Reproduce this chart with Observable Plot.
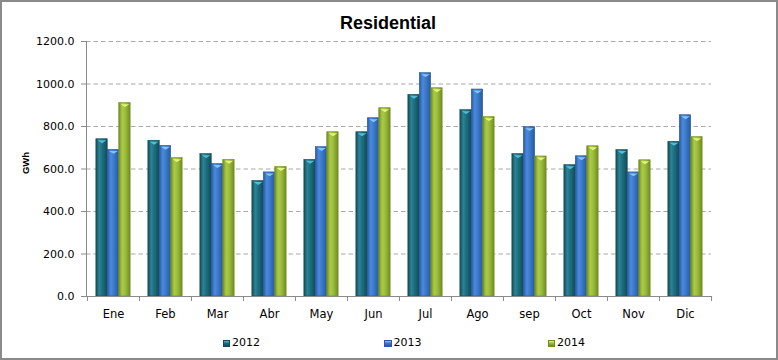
<!DOCTYPE html>
<html>
<head>
<meta charset="utf-8">
<script src="https://cdn.jsdelivr.net/npm/d3@7"></script>
<script src="https://cdn.jsdelivr.net/npm/@observablehq/plot@0.6"></script>
<style>
  html, body { margin: 0; padding: 0; background: #fff; }
  #fig { position: relative; width: 778px; height: 360px; overflow: hidden; font-family: "DejaVu Sans", sans-serif; }
  #fig svg { position: absolute; left: 0; top: 0; }
  #border { position: absolute; left: 0; top: 0; width: 778px; height: 360px; box-sizing: border-box; border: 2px solid #8a8a8a; pointer-events: none; }
  #title { position: absolute; left: 0; width: 776px; top: 14px; text-align: center; font: bold 18px/18px "Liberation Sans", Arial, sans-serif; color: #000; }
  #ylabel { position: absolute; left: 25px; top: 163px; transform: translate(-50%, -50%) rotate(-90deg); font: bold 9.5px "Liberation Sans", Arial, sans-serif; white-space: nowrap; }
  .leg { position: absolute; top: 337px; font: 11px/12px "DejaVu Sans", sans-serif; color: #000; white-space: nowrap; }
  .leg span.sw { display: inline-block; width: 7.5px; height: 7.5px; margin-right: 2px; vertical-align: -1px; }
</style>
</head>
<body>
<div id="fig">
  <div id="title"></div>
  <div id="ylabel"></div>
  <div id="border"></div>
</div>
<script>
// ---- data ----
const months = ["Ene", "Feb", "Mar", "Abr", "May", "Jun", "Jul", "Ago", "sep", "Oct", "Nov", "Dic"];
const years = ["2012", "2013", "2014"];
const v2012 = [740, 733, 670, 543, 643, 773, 949, 877, 670, 618, 689, 728];
const v2013 = [690, 709, 623, 584, 703, 839, 1051, 974, 797, 660, 584, 853];
const v2014 = [910, 651, 643, 609, 773, 886, 980, 844, 659, 707, 641, 750];
const yTicks = [0, 200, 400, 600, 800, 1000, 1200];
const titleText = "Residential";
const yLabel = "GWh";

// ---- styles ----
const colors = {"2012": "#1d6b7b", "2013": "#3a78c8", "2014": "#9aba3a"};
const dark = {"2012": "#124c58", "2013": "#2859a0", "2014": "#6f8c22"};
const light = {"2012": "#2a8597", "2013": "#4a8ade", "2014": "#abcb48"};
const cap = {"2012": "#52bdd6", "2013": "#84c4f6", "2014": "#e6f47a"};

const seriesValues = {"2012": v2012, "2013": v2013, "2014": v2014};
const rows = years.map(y => months.map((m, i) => ({month: m, year: y, value: seriesValues[y][i]})));

const W = 778, H = 360, mL = 86, mR = 67, mT = 41, mB = 64;
const step = (W - mL - mR) / months.length;
const barW = 11.45;
const groupStart = step / 2 - barW * 1.5;

const capSymbol = {
  draw(ctx, size) {
    const w = Math.sqrt(size);
    ctx.moveTo(-w / 2, 0);
    ctx.lineTo(w / 2, 0);
    ctx.lineTo(0, w / 3);
    ctx.closePath();
  }
};

const marks = [
  Plot.ruleY(yTicks.filter(d => d > 0), {y: d => d, stroke: "#a8a8a8", strokeDasharray: "4.5,3", strokeWidth: 1}),
];
years.forEach((y, k) => {
  const left = groupStart + k * barW;
  marks.push(Plot.barY(rows[k], {
    x: "month", y: "value",
    fill: `url(#grad${y})`, stroke: dark[y], strokeWidth: 0.6,
    insetLeft: left, insetRight: step - left - barW
  }));
  marks.push(Plot.dot(rows[k], {
    x: "month", y: "value", symbol: capSymbol, r: 5,
    fill: cap[y], stroke: "none", dx: (k - 1) * barW, dy: 1
  }));
});
marks.push(
  Plot.frame({anchor: "left", stroke: "#8a8a8a"}),
  Plot.frame({anchor: "bottom", stroke: "#8a8a8a"}),
  Plot.ruleX(months, {x: d => d, y1: 0, y2: 0, insetBottom: -5, dx: -step / 2, stroke: "#8a8a8a"}),
  Plot.ruleX([months[months.length - 1]], {x: d => d, y1: 0, y2: 0, insetBottom: -5, dx: step / 2, stroke: "#8a8a8a"}),
  Plot.axisY({ticks: yTicks, tickFormat: d => d.toFixed(1), tickSize: 5, tickPadding: 7, stroke: "#8a8a8a", fill: "#000", fontSize: 11, label: null}),
  Plot.axisX({tickSize: 0, tickPadding: 13, fill: "#000", fontSize: 11.5, label: null})
);

const chart = Plot.plot({
  width: W, height: H,
  marginLeft: mL, marginRight: mR, marginTop: mT, marginBottom: mB,
  style: {fontFamily: "DejaVu Sans, sans-serif", background: "transparent", overflow: "visible"},
  x: {domain: months, padding: 0},
  y: {domain: [0, 1200]},
  marks
});

// gradients for bars
const ns = "http://www.w3.org/2000/svg";
const defs = document.createElementNS(ns, "defs");
years.forEach(y => {
  const g = document.createElementNS(ns, "linearGradient");
  g.setAttribute("id", "grad" + y);
  g.setAttribute("x1", "0"); g.setAttribute("x2", "1"); g.setAttribute("y1", "0"); g.setAttribute("y2", "0");
  [[0, dark[y]], [0.3, light[y]], [0.6, colors[y]], [1, dark[y]]].forEach(([o, c]) => {
    const s = document.createElementNS(ns, "stop");
    s.setAttribute("offset", o); s.setAttribute("stop-color", c);
    g.appendChild(s);
  });
  defs.appendChild(g);
});
chart.insertBefore(defs, chart.firstChild);

const fig = document.getElementById("fig");
fig.insertBefore(chart, fig.firstChild);
document.getElementById("title").textContent = titleText;
document.getElementById("ylabel").textContent = yLabel;

// legend
const legX = [222.5, 384, 547.5];
years.forEach((y, k) => {
  const d = document.createElement("div");
  d.className = "leg";
  d.style.left = legX[k] + "px";
  const sw = document.createElement("span");
  sw.className = "sw";
  sw.style.background = `linear-gradient(to bottom, ${cap[y]} 0%, ${colors[y]} 45%, ${dark[y]} 100%)`;
  sw.style.border = "0.5px solid " + dark[y];
  sw.style.boxSizing = "border-box";
  d.appendChild(sw);
  d.appendChild(document.createTextNode(y));
  fig.appendChild(d);
});
</script>
</body>
</html>
